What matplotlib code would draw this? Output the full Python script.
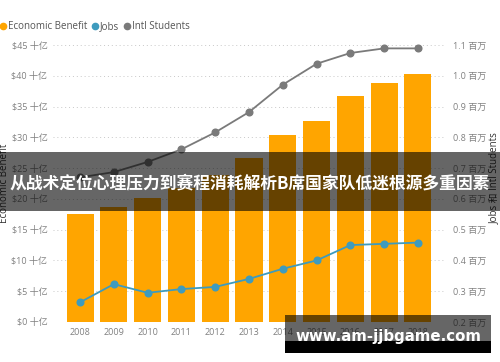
import matplotlib
matplotlib.use("Agg")
import matplotlib.pyplot as plt
from matplotlib.lines import Line2D
from matplotlib.patches import Rectangle

plt.rcParams['font.family'] = ['Open Sans', 'Noto Sans CJK SC', 'DejaVu Sans']

years = ["2008", "2009", "2010", "2011", "2012", "2013", "2014", "2015", "2016", "2017", "2018"]
economic_benefit = [17.5, 18.7, 20.1, 21.8, 23.9, 26.7, 30.4, 32.7, 36.7, 38.9, 40.3]
jobs = [0.264, 0.323, 0.295, 0.307, 0.314, 0.340, 0.373, 0.400, 0.450, 0.454, 0.458]
intl_students = [0.670, 0.687, 0.720, 0.761, 0.816, 0.882, 0.971, 1.039, 1.074, 1.089, 1.089]
left_ticks = [0, 5, 10, 15, 20, 25, 30, 35, 40, 45]
left_labels = ["$0 十亿", "$5 十亿", "$10 十亿", "$15 十亿", "$20 十亿", "$25 十亿",
               "$30 十亿", "$35 十亿", "$40 十亿", "$45 十亿"]
right_ticks = [0.2, 0.3, 0.4, 0.5, 0.6, 0.7, 0.8, 0.9, 1.0, 1.1]
right_labels = ["0.2 百万", "0.3 百万", "0.4 百万", "0.5 百万", "0.6 百万", "0.7 百万",
                "0.8 百万", "0.9 百万", "1.0 百万", "1.1 百万"]
legend_names = ["Economic Benefit", "Jobs", "Intl Students"]
banner_text = "从战术定位心理压力到赛程消耗解析B席国家队低迷根源多重因素"
watermark = "www.am-jjbgame.com"

C_ORANGE = "#FFA500"
C_BLUE = "#3E9BBE"
C_GRAY = "#7A7A7A"
TICK_C = "#808080"

W, H = 500, 362
fig = plt.figure(figsize=(W / 100, H / 100), dpi=100)
ax = fig.add_axes([53 / W, (H - 322) / H, 392 / W, 277 / H])
ax2 = ax.twinx()

x = list(range(len(years)))
ax.bar(x, economic_benefit, width=0.8, color=C_ORANGE, zorder=2)
ax.set_xlim(-0.8, 10.8)
ax.set_ylim(0, 45)
ax.set_yticks(left_ticks)
ax.set_yticklabels(left_labels)
ax.set_xticks(x)
ax.set_xticklabels(years)
ax.grid(axis='y', linestyle=(0, (1, 3)), color="#C8C8C8", linewidth=0.7, zorder=0)
ax.set_axisbelow(True)

ax2.plot(x, jobs, color=C_BLUE, lw=1.3, marker='o', ms=4.8, zorder=3, clip_on=False)
ax2.plot(x, intl_students, color=C_GRAY, lw=1.3, marker='o', ms=4.8, zorder=3, clip_on=False)
ax2.set_ylim(0.2, 1.1)
ax2.set_yticks(right_ticks)
ax2.set_yticklabels(right_labels)

for a in (ax, ax2):
    for s in a.spines.values():
        s.set_visible(False)
    a.tick_params(length=0, labelsize=6.5, colors=TICK_C)
ax.tick_params(axis='y', pad=4)
ax2.tick_params(axis='y', pad=6)
ax.tick_params(axis='x', pad=4)

ax.set_ylabel("Economic Benefit", fontsize=7, color="#333333", labelpad=2)
ax.yaxis.set_label_coords(-43 / 392, 0.5)
ax2.set_ylabel("Jobs 和 Intl Students", fontsize=7, color="#333333", rotation=90)
ax2.yaxis.set_label_coords(1 + 44 / 392, 0.52)

handles = [Line2D([], [], marker='o', ls='', color=c, ms=4.5) for c in (C_ORANGE, C_BLUE, C_GRAY)]
fig.legend(handles, legend_names, loc='upper left', bbox_to_anchor=(0.0, 1 - 21 / H),
           ncol=3, frameon=False, fontsize=7, handlelength=0.6, handletextpad=0.2,
           columnspacing=0.5, borderaxespad=0, borderpad=0, labelcolor="#555555")

# banner overlay
fig.patches.append(Rectangle((0, 1 - 211 / H), 1, (211 - 152) / H, transform=fig.transFigure,
                             color="black", alpha=0.6, zorder=10, lw=0))
fig.text(0.5, 1 - 183 / H, banner_text, ha='center', va='center', color='white',
         fontsize=12.1, fontweight='bold', family=['Noto Sans CJK SC', 'DejaVu Sans'], zorder=11)

# watermark box
fig.patches.append(Rectangle((285 / W, 1 - 353 / H), 206 / W, 38 / H, transform=fig.transFigure,
                             color="black", alpha=0.6, zorder=10, lw=0))
fig.patches.append(Rectangle((285 / W, 1 - 353 / H), 206 / W, 12 / H, transform=fig.transFigure,
                             color="black", zorder=10, lw=0))
fig.text(388 / W, 1 - 337 / H, watermark, ha='center', va='center', color='white',
         fontsize=10.8, fontweight='bold', family=['DejaVu Sans'], zorder=11)

fig.savefig("out.png", dpi=100)
